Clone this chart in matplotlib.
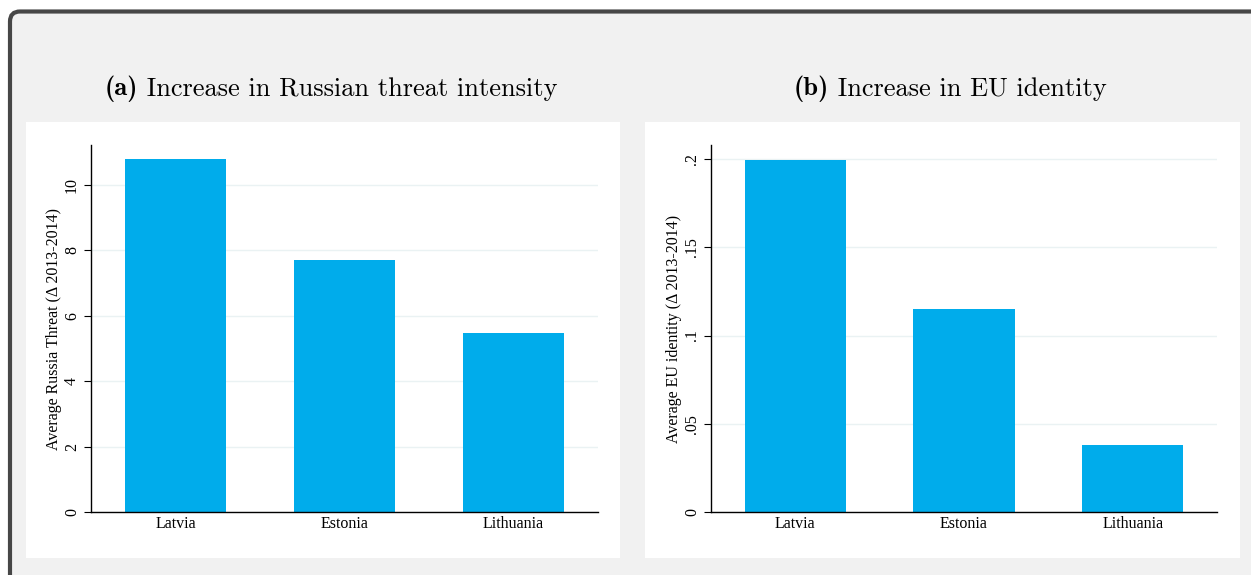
import matplotlib.pyplot as plt
from matplotlib.patches import PathPatch, Rectangle
from matplotlib.path import Path
from matplotlib.transforms import IdentityTransform

countries = ["Latvia", "Estonia", "Lithuania"]
threat_change = [10.8, 7.7, 5.47]
eu_identity_change = [0.1995, 0.115, 0.038]

threat_ticks = [0, 2, 4, 6, 8, 10]
threat_ticklabels = ["0", "2", "4", "6", "8", "10"]
eu_ticks = [0, 0.05, 0.1, 0.15, 0.2]
eu_ticklabels = ["0", ".05", ".1", ".15", ".2"]

BAR_COLOR = "#00aceb"
GRID_COLOR = "#eaf2f3"
PANEL_BG = "#f1f1f1"

plt.rcParams["font.family"] = "Liberation Serif"

W, H = 1251, 575
fig = plt.figure(figsize=(W / 100, H / 100), dpi=100)
fig.patch.set_facecolor("white")


def px_box(x0, y0, x1, y1):
    """Convert a pixel box (top-left origin) into figure fractions."""
    return [x0 / W, 1 - y1 / H, (x1 - x0) / W, (y1 - y0) / H]


# grey page behind both graphs, with a rounded border on top and left only
fx, fy, r = 10, H - 11.5, 10
fill = Path([(fx, -5), (fx, fy - r), (fx, fy), (fx + r, fy), (W + 5, fy),
             (W + 5, -5), (fx, -5)],
            [Path.MOVETO, Path.LINETO, Path.CURVE3, Path.CURVE3,
             Path.LINETO, Path.LINETO, Path.CLOSEPOLY])
fig.patches.append(PathPatch(fill, transform=IdentityTransform(),
                             facecolor=PANEL_BG, edgecolor="none",
                             zorder=-3))
border = Path([(fx, -5), (fx, fy - r), (fx, fy), (fx + r, fy), (W + 5, fy)],
              [Path.MOVETO, Path.LINETO, Path.CURVE3, Path.CURVE3,
               Path.LINETO])
fig.patches.append(PathPatch(border, transform=IdentityTransform(),
                             fill=False, edgecolor="#474747", linewidth=3,
                             zorder=-2))

# white backgrounds behind each graph
for box in [(26, 122, 620, 558), (645, 122, 1240, 558)]:
    x, y, w, h = px_box(*box)
    fig.patches.append(Rectangle((x, y), w, h, transform=fig.transFigure,
                                 facecolor="white", edgecolor="none",
                                 zorder=-1))

# subfigure captions: bold label + regular text, centred as one line
captions = [("(a)", "Increase in Russian threat intensity"),
            ("(b)", "Increase in EU identity")]
renderer = fig.canvas.get_renderer()
for xc, (tag, caption) in zip([331, 950], captions):
    t_tag = fig.text(0, 1 - 89 / H, tag, ha="left", va="center",
                     fontsize=19, family="cmb10")
    t_cap = fig.text(0, 1 - 89 / H, " " + caption, ha="left", va="center",
                     fontsize=19, family="cmr10")
    w_tag = t_tag.get_window_extent(renderer).width
    w_cap = t_cap.get_window_extent(renderer).width
    x0 = xc - (w_tag + w_cap) / 2
    t_tag.set_x(x0 / W)
    t_cap.set_x((x0 + w_tag) / W)


def bar_panel(rect, values, ticks, ticklabels, ylim, ylabel):
    ax = fig.add_axes(rect)
    ax.set_facecolor("none")
    ax.bar(range(len(countries)), values, width=0.6, color=BAR_COLOR,
           zorder=2)
    ax.set_xlim(-0.5, 2.5)
    ax.set_ylim(ylim)
    ax.set_xticks(range(len(countries)))
    ax.set_xticklabels(countries, fontsize=11.5)
    ax.set_yticks(ticks)
    ax.set_yticklabels(ticklabels, fontsize=11.5, rotation=90, va="center")
    ax.tick_params(axis="x", length=0, pad=3)
    ax.tick_params(axis="y", length=5, width=0.8, pad=3)
    ax.yaxis.grid(True, color=GRID_COLOR, linewidth=1, zorder=0)
    ax.set_axisbelow(True)
    for side in ["top", "right"]:
        ax.spines[side].set_visible(False)
    for side in ["left", "bottom"]:
        ax.spines[side].set_linewidth(1)
    ax.set_ylabel(ylabel, fontsize=11.5, labelpad=1)
    return ax


bar_panel(px_box(91, 145, 598, 512), threat_change, threat_ticks,
          threat_ticklabels, (0, 11.22),
          "Average Russia Threat (\u0394 2013-2014)")
bar_panel(px_box(711, 145, 1217, 512), eu_identity_change, eu_ticks,
          eu_ticklabels, (0, 0.208),
          "Average EU identity (\u0394 2013-2014)")

fig.savefig("out.png", dpi=100)
